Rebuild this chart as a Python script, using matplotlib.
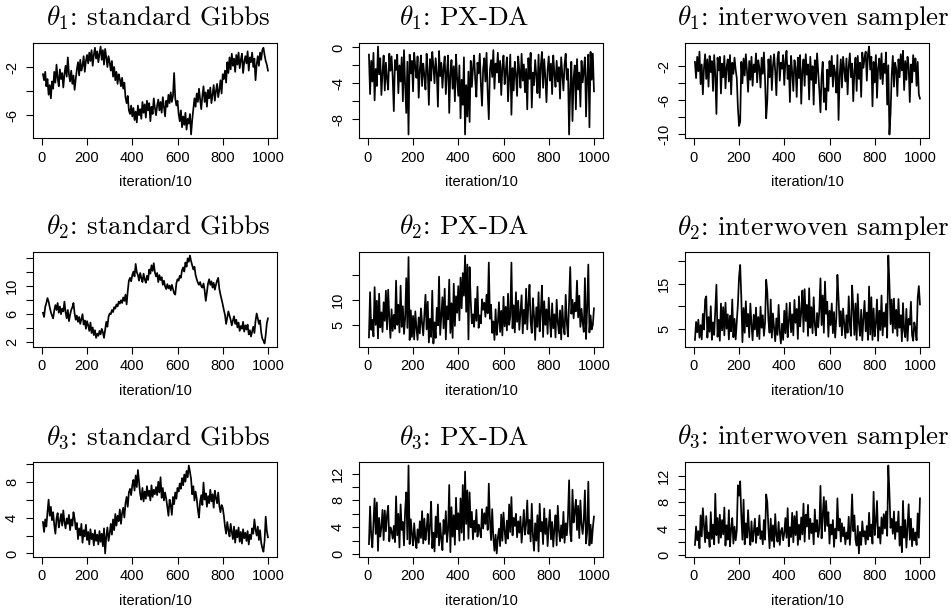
import numpy as np
import matplotlib
matplotlib.use("Agg")
import matplotlib.pyplot as plt

# iteration/10 index, one value every 5 steps
iters = np.arange(5, 1001, 5)

samplers = ["standard Gibbs", "PX-DA", "interwoven sampler"]

# theta 1
th1_gibbs = [
    -2.6, -3.1, -2.4, -3.6, -3.0, -4.3, -3.5, -4.6, -3.2, -3.8,
    -2.4, -3.3, -1.8, -2.9, -3.6, -2.2, -3.0, -2.5, -3.7, -2.6,
    -1.9, -2.8, -1.2, -2.6, -3.2, -2.3, -3.4, -2.7, -3.9, -3.0,
    -2.2, -1.6, -2.7, -1.4, -2.3, -1.9, -1.1, -2.4, -1.5, -1.0,
    -1.7, -0.8, -1.5, -0.6, -1.9, -1.0, -0.4, -1.3, -0.7, -1.6,
    -0.9, -0.3, -1.4, -0.6, -1.8, -0.5, -1.2, -2.0, -1.1, -1.6,
    -2.3, -1.5, -2.8, -2.0, -3.1, -2.4, -3.4, -2.6, -3.0, -3.6,
    -2.9, -3.8, -3.3, -4.5, -5.0, -4.4, -5.6, -5.9, -5.2, -6.1,
    -5.4, -6.4, -5.7, -6.6, -5.2, -6.0, -5.5, -6.3, -4.9, -5.8,
    -5.1, -6.2, -4.8, -5.6, -5.0, -6.5, -5.3, -5.9, -4.6, -5.4,
    -6.0, -5.2, -4.7, -5.6, -4.9, -5.8, -4.5, -5.3, -6.1, -4.8,
    -5.3, -4.3, -5.0, -4.1, -4.9, -4.4, -2.5, -4.6, -5.2, -4.8,
    -5.9, -6.5, -5.6, -7.0, -6.1, -6.8, -5.8, -7.2, -6.3, -6.7,
    -5.9, -7.6, -6.4, -5.5, -4.6, -5.3, -4.2, -4.9, -3.8, -4.7,
    -5.5, -4.4, -3.6, -4.9, -4.1, -5.3, -3.9, -4.6, -3.7, -5.0,
    -4.3, -3.5, -4.8, -4.0, -3.4, -4.5, -3.9, -3.1, -4.2, -2.6,
    -3.0, -2.3, -3.3, -1.6, -2.5, -1.2, -2.2, -0.9, -1.9, -1.3,
    -2.4, -1.0, -1.8, -0.8, -2.1, -1.4, -0.9, -2.5, -1.6, -1.1,
    -1.7, -0.7, -2.3, -1.2, -1.6, -0.8, -2.0, -1.3, -3.1, -1.8,
    -1.1, -1.9, -0.8, -1.4, -0.6, -0.4, -1.0, -1.5, -1.8, -2.3,
]
th1_pxda = [
    -0.8, -5.2, -1.5, -3.8, -0.6, -5.9, -2.4, -4.3, 0.1, -3.0,
    -1.2, -5.3, -2.8, -0.9, -4.8, -1.7, -3.5, -4.7, -0.7, -2.6,
    -1.0, -3.3, -7.1, -1.4, -2.5, -0.8, -5.1, -2.0, -3.8, -1.1,
    -6.0, -0.3, -4.1, -7.3, -1.6, -9.7, -0.8, -2.9, -1.5, -4.9,
    -0.6, -2.2, -3.4, -1.0, -5.6, -2.5, -0.9, -4.3, -1.8, -3.1,
    -4.7, -0.7, -2.6, -6.4, -1.3, -3.7, -0.5, -2.1, -4.0, -1.2,
    -2.8, -6.6, -0.4, -3.2, -1.7, -4.5, -2.3, -1.0, -5.2, -2.7,
    -0.9, -7.3, -3.0, -1.4, -4.6, -2.1, -6.0, -0.8, -3.5, -5.4,
    -2.0, -7.9, -3.6, -6.4, -1.1, -9.7, -4.2, -7.7, -2.7, -8.3,
    -1.5, -4.4, -2.3, -0.9, -3.6, -5.5, -1.7, -2.9, -0.7, -4.1,
    -6.5, -2.4, -1.2, -3.8, -0.6, -5.0, -8.0, -2.5, -1.4, -3.3,
    -0.3, -4.6, -1.8, -2.8, -0.6, -3.9, -1.5, -5.3, -2.2, -0.9,
    -4.1, -2.7, -1.1, -6.0, -3.4, -0.8, -7.5, -2.3, -4.8, -1.6,
    -3.0, -5.4, -1.0, -2.6, -4.5, -0.7, -3.7, -1.9, -5.0, -2.4,
    -6.9, -1.2, -3.5, -0.6, -6.7, -2.8, -4.2, -1.4, -3.1, -5.1,
    -0.8, -5.6, -2.0, -0.5, -4.5, -1.3, -3.3, -6.1, -2.5, -1.0,
    -3.7, -1.8, -5.2, -0.9, -2.9, -4.4, -1.5, -3.8, -2.2, -5.7,
    -1.1, -3.0, -4.8, -1.9, -0.7, -3.6, -2.4, -9.7, -4.6, -1.6,
    -8.2, -3.4, -2.0, -6.9, -1.3, -4.7, -2.8, -6.6, -1.5, -3.9,
    -2.6, -1.1, -7.7, -3.2, -0.8, -8.9, -0.5, -3.6, -0.7, -4.9,
]
th1_inter = [
    -1.5, -3.4, -0.9, -2.6, -0.3, -4.1, -1.8, -5.3, -2.2, -0.6,
    -3.5, -1.2, -4.4, -0.8, -2.7, -1.4, -4.9, -0.7, -3.0, -7.6,
    -1.0, -2.5, -0.9, -5.2, -1.7, -3.3, -0.8, -4.6, -2.1, -1.2,
    -3.8, -0.7, -5.3, -1.6, -2.9, -1.0, -2.4, -3.4, -6.9, -9.0,
    -8.5, -1.5, -4.0, -1.1, -3.1, -0.6, -2.5, -5.0, -1.4, -3.6,
    -0.9, -4.3, -1.8, -2.7, -0.5, -3.9, -1.3, -2.2, -4.5, -1.0,
    -2.9, -0.4, -3.6, -8.1, -6.0, -1.2, -3.3, -0.8, -4.8, -2.0,
    -0.6, -2.6, -5.4, -1.1, -0.3, -3.7, -1.6, -2.3, -0.7, -4.2,
    -1.4, -0.2, -3.5, -1.9, -6.2, -0.8, -2.7, -4.9, -1.3, -2.2,
    -5.6, -1.0, -3.4, -0.7, -6.4, -2.5, -1.2, -4.3, -0.6, -3.0,
    -1.8, -5.9, -0.9, -3.6, -2.0, -6.5, -1.3, -4.0, -0.5, -2.7,
    -4.8, -7.4, -3.2, -1.5, -6.2, -4.6, -7.1, -2.4, -4.9, -1.4,
    -3.2, -0.8, -4.4, -1.9, -2.8, -5.1, -0.7, -8.3, -3.0, -1.2,
    -4.5, -0.9, -2.3, -3.8, -1.1, -5.3, -2.0, -0.5, -3.3, -1.7,
    -6.1, -2.6, -1.0, -4.9, -0.8, -3.5, -1.6, -5.6, -0.4, -2.2,
    -1.0, -0.3, -3.7, -0.6, 0.3, -2.4, -0.9, -6.7, -1.5, -3.9,
    -0.7, -5.7, -2.2, -1.1, -3.5, -0.5, -4.1, -1.7, -2.8, -0.4,
    -6.5, -1.9, -10.0, -7.5, -3.0, -0.8, -4.4, -1.6, -2.3, -5.5,
    -1.2, -3.3, -0.6, -2.5, -0.2, -4.8, -1.4, -3.6, -0.9, -2.0,
    -6.2, -1.8, -3.9, -0.7, -2.6, -1.1, -4.3, -1.5, -5.3, -5.8,
]

# theta 2
th2_gibbs = [
    6.2, 5.6, 7.0, 7.6, 8.3, 7.8, 7.0, 6.3, 5.8, 5.4,
    6.5, 7.3, 6.6, 7.6, 6.2, 7.1, 6.0, 6.8, 6.4, 7.8,
    6.3, 5.4, 6.6, 5.0, 5.9, 6.6, 7.0, 7.6, 6.1, 5.2,
    5.8, 4.9, 5.6, 4.6, 5.3, 6.0, 4.5, 5.1, 3.9, 5.0,
    4.4, 3.6, 4.8, 3.3, 4.1, 3.0, 3.7, 2.6, 3.2, 2.9,
    3.6, 3.1, 3.9, 3.4, 2.6, 3.8, 4.9, 4.2, 5.6, 6.1,
    6.0, 6.6, 6.3, 7.0, 6.8, 7.4, 7.1, 7.8, 7.5, 8.0,
    7.6, 8.4, 7.9, 8.8, 7.4, 9.3, 10.8, 11.2, 10.7, 11.6,
    12.1, 11.4, 13.2, 12.0, 11.6, 10.8, 11.9, 11.2, 10.6, 11.8,
    11.0, 10.5, 11.5, 10.9, 12.4, 11.8, 13.0, 12.2, 13.3, 12.0,
    11.4, 11.9, 10.6, 11.6, 10.9, 11.3, 10.2, 10.8, 10.0, 9.6,
    10.3, 9.7, 10.1, 9.4, 10.2, 9.6, 9.0, 8.8, 10.4, 11.0,
    10.8, 11.5, 11.2, 12.3, 12.7, 12.1, 13.4, 12.8, 14.0, 13.5,
    14.4, 13.6, 13.0, 12.4, 12.8, 11.6, 11.0, 10.5, 10.2, 10.6,
    10.0, 9.8, 10.4, 9.4, 7.9, 9.2, 10.4, 11.0, 10.2, 10.7,
    9.8, 10.5, 9.5, 10.2, 10.8, 11.2, 9.6, 8.8, 8.1, 7.4,
    6.6, 5.9, 4.6, 5.5, 6.4, 5.8, 5.2, 4.4, 5.1, 5.7,
    4.6, 5.2, 4.1, 4.8, 3.6, 4.3, 3.9, 4.9, 3.5, 4.4,
    3.8, 4.5, 3.1, 3.7, 2.8, 3.5, 4.2, 3.3, 5.0, 6.1,
    5.4, 4.6, 5.1, 3.4, 2.5, 2.2, 1.8, 3.0, 4.7, 5.4,
]
th2_pxda = [
    2.5, 11.5, 4.0, 6.0, 2.7, 12.5, 5.0, 9.8, 2.3, 11.2,
    4.5, 7.5, 3.6, 9.5, 5.8, 11.8, 4.1, 12.0, 6.4, 2.4,
    8.1, 3.8, 7.0, 4.2, 13.8, 5.0, 9.0, 3.5, 12.8, 4.6,
    8.7, 3.2, 6.3, 14.3, 4.4, 18.5, 2.0, 7.9, 2.6, 6.8,
    2.1, 7.7, 4.4, 2.0, 6.5, 3.3, 8.3, 5.4, 2.9, 6.9,
    11.0, 4.1, 9.6, 1.5, 6.2, 2.6, 11.8, 1.3, 5.5, 2.4,
    8.4, 4.9, 14.6, 3.0, 6.6, 10.5, 4.3, 12.2, 2.1, 8.7,
    6.1, 14.0, 3.4, 9.3, 2.4, 13.2, 4.8, 10.7, 7.4, 12.7,
    5.9, 14.4, 8.3, 15.3, 10.8, 18.8, 7.6, 17.0, 2.1, 16.5,
    9.8, 5.3, 7.1, 4.6, 10.2, 5.8, 12.6, 4.4, 6.9, 5.3,
    10.1, 8.0, 9.4, 6.6, 11.0, 7.3, 17.4, 6.2, 9.0, 3.4,
    5.7, 2.0, 8.1, 3.0, 5.5, 9.5, 3.6, 7.8, 2.9, 10.6,
    4.7, 8.6, 3.9, 11.2, 5.0, 6.7, 17.4, 4.3, 8.9, 3.5,
    11.5, 5.6, 9.8, 4.0, 7.4, 10.9, 3.3, 8.0, 5.2, 12.2,
    4.1, 9.2, 13.0, 5.6, 3.4, 10.3, 6.8, 2.0, 8.5, 4.6,
    11.5, 3.7, 7.6, 12.8, 2.6, 9.7, 5.0, 8.1, 3.2, 10.4,
    6.0, 2.6, 9.3, 4.3, 7.1, 2.5, 10.0, 5.6, 3.3, 7.9,
    2.1, 8.8, 4.7, 3.1, 11.0, 5.4, 2.7, 9.4, 16.5, 7.2,
    10.0, 6.3, 9.4, 7.7, 13.8, 6.5, 10.8, 4.6, 8.2, 5.5,
    3.6, 14.3, 2.2, 8.5, 17.0, 3.5, 6.9, 4.1, 5.0, 8.3,
]
th2_inter = [
    2.5, 6.5, 4.2, 7.0, 3.0, 5.8, 2.6, 8.3, 4.8, 11.5,
    12.2, 3.0, 7.6, 4.3, 10.0, 2.5, 6.4, 3.6, 9.3, 14.8,
    3.2, 7.0, 2.3, 10.6, 4.6, 9.8, 3.5, 10.8, 5.0, 8.2,
    2.6, 7.9, 4.4, 11.5, 3.1, 7.2, 2.6, 6.4, 10.5, 16.5,
    19.2, 12.0, 2.0, 9.6, 4.1, 11.1, 5.5, 8.3, 3.1, 10.6,
    6.0, 2.4, 8.1, 4.8, 9.7, 3.3, 7.6, 2.7, 9.9, 5.2,
    8.0, 3.4, 6.3, 15.9, 13.2, 6.8, 4.1, 11.5, 3.0, 8.4,
    5.1, 2.2, 7.3, 3.6, 10.3, 4.4, 1.7, 6.1, 2.5, 9.0,
    4.0, 10.6, 3.1, 6.6, 10.8, 4.2, 8.2, 3.5, 11.4, 6.3,
    9.4, 2.7, 12.2, 5.5, 8.7, 13.5, 4.3, 13.8, 6.7, 10.3,
    3.4, 14.0, 5.2, 9.8, 4.0, 12.0, 6.0, 3.5, 8.5, 5.3,
    9.0, 16.2, 5.8, 12.4, 4.1, 15.5, 8.3, 11.0, 3.2, 9.0,
    5.8, 10.6, 4.0, 8.7, 3.0, 7.2, 17.0, 11.8, 5.5, 8.9,
    3.5, 9.5, 6.3, 2.9, 8.0, 4.1, 12.2, 5.8, 3.4, 14.6,
    9.8, 3.6, 10.6, 2.5, 12.7, 6.2, 3.4, 9.2, 2.4, 7.4,
    11.2, 4.4, 8.6, 2.5, 14.4, 3.7, 12.0, 2.5, 9.5, 3.3,
    6.3, 11.5, 2.3, 9.0, 4.7, 12.4, 3.5, 8.6, 5.4, 10.5,
    3.0, 21.3, 15.0, 6.0, 11.5, 4.1, 11.7, 5.0, 9.2, 3.4,
    11.6, 5.2, 8.0, 2.2, 10.7, 4.6, 3.1, 9.4, 2.3, 7.2,
    5.9, 11.0, 3.6, 2.3, 6.4, 5.0, 2.4, 11.9, 14.5, 10.4,
]

# theta 3
th3_gibbs = [
    3.5, 2.4, 3.8, 3.0, 4.6, 6.0, 4.2, 5.2, 3.7, 4.6,
    3.2, 2.2, 3.9, 4.5, 2.9, 3.6, 4.4, 3.1, 4.8, 3.5,
    2.8, 3.9, 3.3, 4.3, 2.6, 3.8, 3.1, 4.6, 3.9, 2.7,
    3.4, 1.6, 2.8, 2.0, 3.3, 1.2, 2.6, 1.9, 3.2, 1.5,
    2.4, 1.0, 2.7, 1.6, 2.2, 0.9, 2.6, 1.4, 2.1, 1.0,
    2.5, 1.3, 2.2, 0.8, 2.8, 0.0, 1.9, 2.9, 1.4, 2.2,
    3.3, 2.1, 3.8, 2.6, 4.4, 3.1, 4.2, 3.6, 4.9, 3.3,
    4.5, 5.1, 4.0, 5.6, 6.3, 5.2, 6.8, 7.2, 6.5, 7.6,
    8.2, 7.0, 8.7, 7.4, 9.3, 7.9, 6.6, 6.0, 7.3, 5.8,
    6.9, 6.1, 7.5, 6.4, 7.0, 5.9, 7.6, 6.3, 7.1, 6.6,
    7.4, 6.5, 8.0, 6.8, 8.5, 6.2, 7.3, 5.9, 6.8, 6.1,
    5.2, 4.2, 6.0, 5.4, 4.3, 6.3, 5.5, 6.8, 6.1, 7.3,
    6.9, 7.8, 7.2, 8.4, 7.6, 8.8, 8.0, 9.2, 8.5, 9.8,
    9.1, 8.3, 6.6, 7.5, 5.9, 6.9, 6.1, 4.9, 4.0, 5.8,
    6.5, 5.4, 7.9, 6.0, 6.7, 5.2, 6.4, 5.6, 7.1, 5.8,
    6.6, 5.1, 7.0, 6.2, 5.6, 6.8, 5.3, 4.6, 5.4, 5.1,
    4.2, 3.0, 2.2, 3.5, 2.6, 1.9, 3.3, 2.4, 1.6, 3.0,
    1.2, 2.6, 1.8, 2.9, 1.3, 2.4, 1.1, 2.7, 1.7, 2.3,
    1.4, 2.5, 1.0, 2.1, 1.6, 2.8, 2.2, 3.8, 2.7, 2.0,
    3.0, 1.5, 2.6, 1.2, 0.6, 0.2, 1.4, 4.1, 2.5, 1.8,
]
th3_pxda = [
    1.5, 7.1, 2.8, 1.0, 4.5, 8.3, 3.0, 7.7, 0.5, 5.4,
    2.6, 4.0, 6.6, 2.1, 6.5, 3.4, 5.8, 7.2, 1.9, 4.0,
    3.4, 2.3, 4.2, 1.8, 8.6, 2.8, 6.0, 1.0, 7.4, 3.6,
    4.8, 1.3, 6.5, 9.2, 2.2, 13.2, 1.5, 5.2, 3.0, 1.3,
    4.6, 2.3, 0.9, 3.7, 1.7, 4.9, 2.4, 6.4, 1.6, 5.3,
    2.1, 3.8, 6.0, 1.5, 4.4, 7.8, 0.9, 3.2, 0.4, 5.6,
    2.5, 7.4, 1.3, 4.6, 2.2, 0.6, 5.1, 3.0, 6.4, 1.8,
    3.6, 10.3, 0.3, 7.0, 2.6, 5.8, 1.4, 8.4, 3.7, 6.1,
    2.0, 8.3, 3.2, 10.3, 2.1, 12.3, 4.5, 9.5, 2.3, 9.2,
    4.0, 6.3, 2.2, 5.0, 3.3, 6.6, 2.6, 4.4, 3.7, 2.5,
    6.7, 3.8, 6.1, 4.5, 7.0, 3.6, 10.5, 5.0, 2.1, 6.7,
    2.5, 0.5, 2.9, 0.1, 2.4, 3.8, 1.2, 5.9, 2.0, 6.2,
    3.5, 1.6, 5.0, 2.3, 7.4, 3.3, 8.5, 2.8, 5.4, 4.2,
    6.0, 2.5, 4.9, 3.2, 5.6, 1.7, 4.0, 6.6, 2.9, 4.5,
    8.0, 3.0, 5.1, 1.9, 7.5, 2.8, 0.5, 4.6, 2.0, 5.8,
    0.4, 7.5, 3.4, 4.8, 1.5, 6.8, 3.0, 5.3, 1.2, 4.1,
    6.6, 2.2, 4.8, 1.1, 3.8, 5.8, 1.3, 7.2, 3.5, 1.9,
    4.3, 2.4, 6.3, 1.7, 4.6, 2.8, 5.5, 11.0, 3.2, 1.9,
    9.6, 4.7, 6.3, 8.1, 3.6, 7.2, 2.4, 8.0, 4.5, 3.0,
    5.1, 9.5, 1.6, 3.3, 10.8, 1.3, 4.4, 1.6, 3.9, 5.6,
]
th3_inter = [
    1.5, 4.3, 2.2, 3.6, 1.0, 6.0, 2.8, 7.1, 4.4, 1.9,
    5.9, 2.5, 3.4, 1.2, 6.5, 2.4, 4.6, 1.6, 9.3, 3.0,
    5.6, 1.8, 6.1, 2.6, 5.3, 3.1, 7.2, 1.4, 4.5, 2.3,
    6.8, 1.3, 3.9, 5.6, 1.7, 4.3, 2.2, 3.7, 10.6, 9.0,
    11.2, 6.0, 2.3, 8.4, 1.6, 4.8, 2.6, 6.8, 3.3, 1.5,
    5.1, 2.0, 3.5, 5.5, 1.8, 4.1, 3.0, 6.0, 2.4, 3.6,
    1.6, 5.3, 2.3, 9.2, 8.0, 4.0, 1.0, 5.5, 2.1, 4.5,
    1.2, 6.2, 3.0, 2.0, 5.0, 1.5, 3.6, 4.1, 2.2, 3.3,
    5.6, 2.6, 7.1, 1.3, 4.2, 2.7, 6.4, 1.9, 5.9, 3.0,
    6.6, 1.5, 4.6, 2.3, 5.7, 3.1, 7.8, 2.0, 6.1, 4.3,
    7.6, 2.4, 5.5, 3.3, 4.8, 1.6, 6.9, 3.5, 5.3, 2.7,
    4.0, 10.5, 2.5, 6.0, 8.8, 3.6, 8.2, 4.4, 6.5, 1.7,
    4.6, 3.1, 5.3, 1.2, 4.0, 2.5, 8.6, 3.7, 5.5, 2.0,
    4.8, 2.8, 4.2, 1.6, 3.4, 2.4, 5.8, 1.5, 4.4, 9.2,
    3.6, 6.0, 2.3, 1.4, 4.4, 0.2, 3.5, 1.5, 5.1, 2.8,
    3.6, 1.6, 4.4, 2.3, 6.4, 2.8, 4.6, 1.7, 9.6, 3.0,
    5.0, 8.2, 2.6, 4.2, 1.7, 5.7, 3.2, 6.2, 4.0, 6.6,
    2.9, 13.6, 9.5, 4.1, 5.5, 3.2, 6.6, 2.4, 5.0, 3.5,
    6.6, 1.4, 4.3, 0.4, 8.2, 2.6, 5.3, 1.1, 4.2, 7.7,
    2.3, 5.5, 1.3, 4.0, 2.2, 3.4, 1.5, 6.3, 2.6, 8.6,
]

traces = [
    [th1_gibbs, th1_pxda, th1_inter],
    [th2_gibbs, th2_pxda, th2_inter],
    [th3_gibbs, th3_pxda, th3_inter],
]

# y ticks per panel; None in labels = tick without a label (as R drops them)
yticks = [
    [[-6, -4, -2], [-8, -6, -4, -2, 0], [-10, -8, -6, -4, -2]],
    [[2, 4, 6, 8, 10, 12, 14], [5, 10, 15], [5, 10, 15, 20]],
    [[0, 2, 4, 6, 8, 10], [0, 2, 4, 6, 8, 10, 12], [0, 2, 4, 6, 8, 10, 12]],
]
ylabels = [
    [[-6, None, -2], [-8, None, -4, None, 0], [-10, None, -6, None, -2]],
    [[2, None, 6, None, 10, None, None], [5, 10, None], [5, None, 15, None]],
    [[0, None, 4, None, 8, None], [0, None, 4, None, 8, None, 12], [0, None, 4, None, 8, None, 12]],
]

plt.rcParams["mathtext.fontset"] = "cm"
plt.rcParams["font.family"] = "Liberation Sans"
plt.rcParams["axes.unicode_minus"] = False

W, H = 951, 611
fig = plt.figure(figsize=(W / 100, H / 100), dpi=100)

col_left = [33, 359, 685]
row_top = [43, 252, 462]
box_w, box_h = 244, 95
# titles are not quite centred over the boxes in the original (pixels)
title_shift = [3, -17, 6]

for r in range(3):
    for c in range(3):
        ax = fig.add_axes([col_left[c] / W, 1 - (row_top[r] + box_h) / H,
                           box_w / W, box_h / H])
        y = np.array(traces[r][c])
        ax.plot(iters, y, color="black", lw=1.25)

        # R style 4% padding on both axes
        ax.set_xlim(1 - 0.04 * 999, 1000 + 0.04 * 999)
        pad = 0.04 * (y.max() - y.min())
        ax.set_ylim(y.min() - pad, y.max() + pad)

        ax.set_xticks([0, 200, 400, 600, 800, 1000])
        ax.set_yticks(yticks[r][c])
        ax.set_yticklabels(["" if v is None else str(v) for v in ylabels[r][c]],
                           rotation=90, va="center")
        ax.tick_params(direction="out", length=5, width=0.8, labelsize=10.5,
                       color="black", labelcolor="black")
        ax.tick_params(axis="y", pad=5)
        ax.tick_params(axis="x", pad=4)
        for s in ax.spines.values():
            s.set_linewidth(0.8)

        ax.text(0.5, -44 / box_h, "iteration/10", transform=ax.transAxes,
                ha="center", va="center", fontsize=10.5)
        title = r"$\theta_%d$: %s" % (r + 1, samplers[c])
        ax.text(0.5 + title_shift[c] / box_w, 1 + 25 / box_h, title,
                transform=ax.transAxes, ha="center", va="center",
                fontsize=19.5, family="cmr10")

fig.savefig("out.png", dpi=100)
